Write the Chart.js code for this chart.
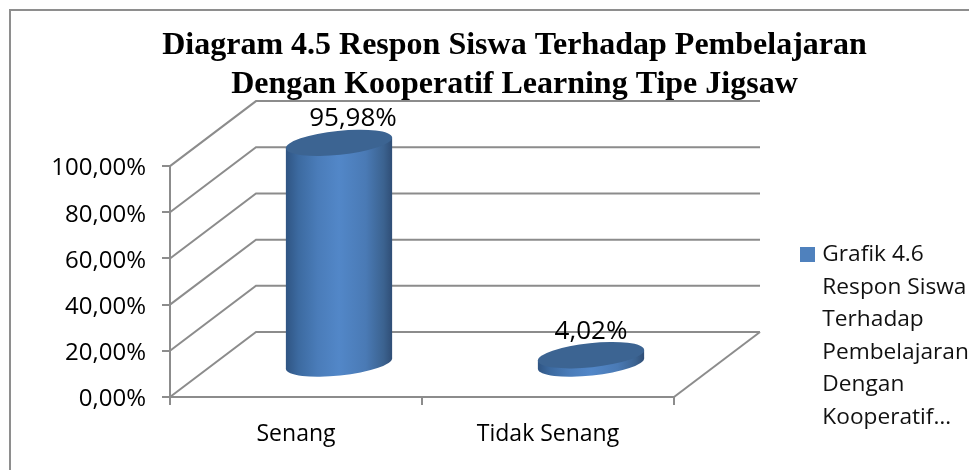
<!DOCTYPE html>
<html>
<head>
<meta charset="utf-8">
<style>html,body{margin:0;padding:0;background:#fff}canvas{display:block}</style>
<script src="https://cdn.jsdelivr.net/npm/chart.js@4/dist/chart.umd.js"></script>
</head>
<body>
<canvas id="c" width="969" height="470"></canvas>
<script>
const titleLines = ["Diagram 4.5 Respon Siswa Terhadap Pembelajaran", "Dengan Kooperatif Learning Tipe Jigsaw"];
const categories = ["Senang", "Tidak Senang"];
const seriesName = "Grafik 4.6 Respon Siswa Terhadap Pembelajaran Dengan Kooperatif…";
const legendLines = ["Grafik 4.6", "Respon Siswa", "Terhadap", "Pembelajaran", "Dengan", "Kooperatif…"];
const values = [95.98, 4.02];
const labelShiftX = [14, 0];

const DEPTH_X = 86, DEPTH_Y = 65;
const GRID = "#8c8c8c", BLUE = "#4F81BD";
const fmt = v => v.toFixed(2).replace(".", ",") + "%";

function ellipse(ctx, cx, cy, rx, ry) {
  ctx.beginPath();
  ctx.ellipse(cx, cy, rx, ry, -6 * Math.PI / 180, 0, Math.PI * 2);
}

class CylinderBar extends Chart.BarElement {
  static id = "cylinder";
  static defaults = {...Chart.BarElement.defaults};
  static defaultRoutes = Chart.BarElement.defaultRoutes;
  draw(ctx) {
    const {x, y, base, width} = this.getProps(["x", "y", "base", "width"]);
    const cx = x + DEPTH_X / 2, rx = width / 2 + 0.5, ry = 12;
    const top = y - DEPTH_Y / 2, bot = base - DEPTH_Y / 2;
    const g = ctx.createLinearGradient(cx - rx, 0, cx + rx, 0);
    g.addColorStop(0, "#2f5482");
    g.addColorStop(0.12, "#3c6aa0");
    g.addColorStop(0.3, "#4a7cb9");
    g.addColorStop(0.5, "#5287c8");
    g.addColorStop(0.75, "#4a7ab5");
    g.addColorStop(0.92, "#3b628f");
    g.addColorStop(1, "#2f4d75");
    ctx.save();
    ellipse(ctx, cx, bot, rx, ry);
    ctx.fillStyle = g;
    ctx.fill();
    ctx.beginPath();
    ctx.moveTo(cx - rx + 0.3, top + 5);
    ctx.lineTo(cx + rx - 0.3, top - 5);
    ctx.lineTo(cx + rx - 0.3, bot - 5);
    ctx.lineTo(cx - rx + 0.3, bot + 5);
    ctx.closePath();
    ctx.fill();
    ellipse(ctx, cx, top, rx, ry);
    ctx.fillStyle = "#3c6492";
    ctx.fill();
    ctx.restore();
  }
}
Chart.register(CylinderBar);
Chart.defaults.datasets.bar.dataElementType = "cylinder";

const scene = {
  id: "scene",
  afterLayout(chart) {
    chart.titleBlock.left = 60;
    chart.titleBlock.right = 969;
    chart.legend.left = 794.1;
    chart.legend.right = 969;
    chart.legend.top = 233.3;
    chart.legend.bottom = 470;
  },
  beforeDraw(chart) {
    const c = chart.ctx;
    c.save();
    c.fillStyle = "#fff";
    c.fillRect(0, 0, 969, 470);
    c.strokeStyle = "#8e8e8e";
    c.lineWidth = 2;
    c.beginPath();
    c.moveTo(10, 470);
    c.lineTo(10, 10);
    c.lineTo(969, 10);
    c.stroke();
    c.restore();
  },
  beforeDatasetsDraw(chart) {
    const c = chart.ctx, {left, right, bottom} = chart.chartArea, ys = chart.scales.y;
    c.save();
    c.strokeStyle = GRID;
    c.lineWidth = 2;
    ys.ticks.forEach(t => {
      const y = ys.getPixelForValue(t.value);
      c.beginPath();
      c.moveTo(left, y);
      c.lineTo(left + DEPTH_X, y - DEPTH_Y);
      c.lineTo(right + DEPTH_X, y - DEPTH_Y);
      c.stroke();
    });
    c.beginPath();
    c.moveTo(right + DEPTH_X, bottom - DEPTH_Y);
    c.lineTo(right, bottom);
    c.stroke();
    c.restore();
  },
  afterDatasetsDraw(chart) {
    const c = chart.ctx, els = chart.getDatasetMeta(0).data;
    c.save();
    c.fillStyle = "#000";
    c.font = "26px 'Open Sans'";
    c.textAlign = "center";
    c.textBaseline = "middle";
    els.forEach((el, i) => {
      c.fillText(fmt(values[i]), el.x + DEPTH_X / 2 + labelShiftX[i], el.y - DEPTH_Y / 2 - 24);
    });
    c.restore();
  }
};

new Chart(document.getElementById("c"), {
  type: "bar",
  data: {
    labels: categories,
    datasets: [{label: seriesName, data: values, backgroundColor: BLUE, barPercentage: 0.42, categoryPercentage: 1, clip: false}]
  },
  plugins: [scene],
  options: {
    responsive: false,
    animation: false,
    layout: {padding: {left: 0, right: 295, top: 0, bottom: 0}},
    plugins: {
      tooltip: {enabled: false},
      title: {
        display: true,
        text: titleLines,
        color: "#000",
        font: {family: "'Liberation Serif'", size: 32, weight: "bold", lineHeight: 1.22},
        padding: {top: 26, bottom: 62}
      },
      legend: {
        position: "chartArea",
        align: "start",
        labels: {
          font: {family: "'Open Sans'", size: 22.7},
          color: "#111",
          boxWidth: 7,
          boxHeight: 7,
          padding: 9.9,
          generateLabels: () => legendLines.map((text, i) => ({
            text,
            fillStyle: i === 0 ? BLUE : "rgba(0,0,0,0)",
            strokeStyle: i === 0 ? BLUE : "rgba(0,0,0,0)",
            lineWidth: i === 0 ? 8 : 0,
            datasetIndex: 0,
            fontColor: "#111"
          }))
        }
      }
    },
    scales: {
      x: {
        afterFit(s) { s.height = 73; },
        border: {color: GRID, width: 2},
        grid: {drawOnChartArea: false, drawTicks: true, tickLength: 8, color: GRID, lineWidth: 2},
        ticks: {color: "#000", padding: 16, font: {family: "'Open Sans'", size: 23}}
      },
      y: {
        min: 0, max: 100,
        afterFit(s) { s.width = 170; },
        border: {color: GRID, width: 2},
        grid: {drawOnChartArea: false, drawTicks: true, tickLength: 8, color: GRID, lineWidth: 2},
        ticks: {stepSize: 20, color: "#000", padding: 16, labelOffset: 2.5, callback: v => fmt(v), font: {family: "'Open Sans'", size: 24}}
      }
    }
  }
});
</script>
</body>
</html>
